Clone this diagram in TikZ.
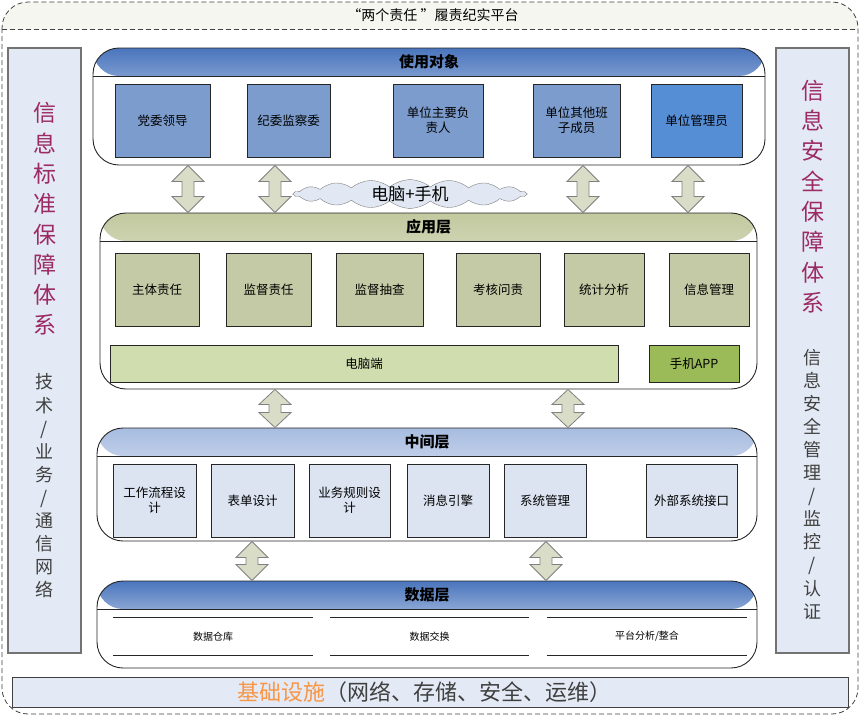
\documentclass[tikz,border=0pt]{standalone}
\usepackage{fontspec}
\setmainfont{Noto Sans CJK SC}
\usepackage{xcolor}
\usepackage{tikz}
\usetikzlibrary{positioning, calc, shapes.symbols}

\definecolor{useblue}{HTML}{4A75BD}
\definecolor{appolive}{HTML}{C2C99F}
\definecolor{midblue}{HTML}{A7BCE0}
\definecolor{userbox}{HTML}{7B9CCC}
\definecolor{adminbox}{HTML}{558ED5}
\definecolor{appbox}{HTML}{C4CAA5}
\definecolor{pcbar}{HTML}{D0DDAF}
\definecolor{appbar}{HTML}{9BBB59}
\definecolor{midbox}{HTML}{DCE4F2}
\definecolor{sidefill}{HTML}{E4EAF5}
\definecolor{sidetext}{HTML}{9C2A64}
\definecolor{arrowfill}{HTML}{D9DDC7}
\definecolor{cloudfill}{HTML}{E1E8F3}
\definecolor{stripfill}{HTML}{F6F6F0}
\definecolor{infraorange}{HTML}{F79646}

% block arrow between two layers at x = #1
\newcommand\updown[4]{%
  \draw[updown] let \p1=(#2.south), \p2=(#3.north) in
    (#1pt,\y1) -- ++(16pt,-#4pt) -- ++(-10pt,0pt) -- ++(0pt,{(\y2)-(\y1)+2*#4})
    -- ++(10pt,0pt) -- (#1pt,\y2) -- ++(-16pt,#4pt) -- ++(10pt,0pt)
    -- ++(0pt,{(\y1)-(\y2)-2*#4}) -- ++(-10pt,0pt) -- cycle;
}

\begin{document}
\begin{tikzpicture}[
      x=1pt, y=-1pt,
      frame/.style={
        draw=black!75,
        dash pattern=on 5pt off 3pt,
        line width=0.8pt
      },
      layer/.style={
        draw=black!85,
        line width=0.9pt,
        rounded corners=26pt,
        fill=white,
        inner sep=0pt,
        path picture={
          \shade[top color=#1, bottom color=white, middle color=#1!45!white]
            (path picture bounding box.north west) rectangle
            ([yshift=-28pt]path picture bounding box.north east);
          \draw[black!85, line width=0.9pt]
            ([yshift=-28pt]path picture bounding box.north west) --
            ([yshift=-28pt]path picture bounding box.north east);
        }
      },
      layertitle/.style={
        font=\fontsize{15}{18}\selectfont\bfseries
      },
      ubox/.style={
        draw=black!85,
        line width=0.8pt,
        fill=userbox,
        minimum height=73pt,
        inner sep=1pt,
        align=center,
        font=\fontsize{12.5}{15}\selectfont
      },
      abox/.style={
        ubox,
        fill=appbox
      },
      mbox/.style={
        ubox,
        fill=midbox
      },
      bar/.style={
        ubox,
        minimum height=37pt
      },
      dseg/.style={
        minimum width=200pt,
        minimum height=37pt,
        inner sep=0pt,
        font=\fontsize{10}{12}\selectfont
      },
      dline/.style={
        black!85,
        line width=0.8pt
      },
      sidebar/.style={
        draw=black!55,
        line width=1.3pt,
        fill=sidefill,
        minimum width=73pt,
        minimum height=605pt
      },
      sidetitle/.style={
        text=sidetext,
        align=center,
        font=\fontsize{23}{30.3}\selectfont
      },
      sidenote/.style={
        text=black!75,
        align=center,
        font=\fontsize{18}{23.1}\selectfont
      },
      updown/.style={
        draw=black!50,
        line width=0.8pt,
        fill=arrowfill
      }
    ]

    \useasboundingbox (0,0) rectangle (860,716);

    % outer frame
    \begin{scope}
      \clip (0,0) rectangle (860,29);
      \fill[stripfill, rounded corners=26pt] (2,2) rectangle (858,714);
    \end{scope}
    \draw[frame, rounded corners=26pt] (2,2) rectangle (858,714);
    \draw[frame] (2,29) -- (858,29);
    \node[font=\fontsize{14}{16}\selectfont] (platform) at (433,15) {“两个责任 ”履责纪实平台};

    % side panels
    \node[sidebar] (lside) at (44.5,350.5) {};
    \node[sidetitle] (lstd) at (44.5,219) {信\\息\\标\\准\\保\\障\\体\\系};
    \node[sidenote] (lnet) at (44.5,486) {技\\术\\/\\业\\务\\/\\通\\信\\网\\络};

    \node[sidebar] (rside) at (812.5,350.5) {};
    \node[sidetitle] (rsec) at (812.5,196.5) {信\\息\\安\\全\\保\\障\\体\\系};
    \node[sidenote] (rmgmt) at (812.5,484) {信\\息\\安\\全\\管\\理\\/\\监\\控\\/\\认\\证};

    % layers
    \node[layer=useblue, minimum width=672pt, minimum height=117pt] (use) at (429,106.5) {};
    \node[layertitle] (usetitle) at ([yshift=-14pt]use.north) {使用对象};

    \node[layer=appolive, minimum width=657pt, minimum height=176pt] (app) at (428.5,301) {};
    \node[layertitle] (apptitle) at ([yshift=-14.5pt]app.north) {应用层};

    \node[layer=midblue, minimum width=660pt, minimum height=113pt] (mid) at (427,484.5) {};
    \node[layertitle] (midtitle) at ([yshift=-14pt]mid.north) {中间层};

    \node[layer=useblue, minimum width=660pt, minimum height=87pt] (data) at (427,624.5) {};
    \node[layertitle] (datatitle) at ([yshift=-14.5pt]data.north) {数据层};

    % users
    \node[ubox, minimum width=95pt] (party) at (162.5,120.5) {党委领导};
    \node[ubox, minimum width=83pt] (discipline) at (288.5,120.5) {纪委监察委};
    \node[ubox, minimum width=90pt] (head) at (438,120.5) {单位主要负\\责人};
    \node[ubox, minimum width=87pt] (members) at (576.5,120.5) {单位其他班\\子成员};
    \node[ubox, fill=adminbox, minimum width=91pt] (admin) at (696.5,120.5) {单位管理员};

    % application layer
    \node[abox, minimum width=84pt] (mainresp) at (157,289.5) {主体责任};
    \node[abox, minimum width=85pt] (superresp) at (268.5,289.5) {监督责任};
    \node[abox, minimum width=87pt] (spotcheck) at (379.5,289.5) {监督抽查};
    \node[abox, minimum width=84pt] (assess) at (498,289.5) {考核问责};
    \node[abox, minimum width=80pt] (stats) at (604,289.5) {统计分析};
    \node[abox, minimum width=80pt] (infomgmt) at (709,289.5) {信息管理};
    \node[bar, fill=pcbar, minimum width=508pt] (pc) at (364,363.5) {电脑端};
    \node[bar, fill=appbar, minimum width=90pt] (mobile) at (694,363.5) {手机APP};

    % middle layer
    \node[mbox, minimum width=83pt] (workflow) at (154.5,500.5) {工作流程设\\计};
    \node[mbox, minimum width=83pt] (form) at (252.5,500.5) {表单设计};
    \node[mbox, minimum width=81pt] (rules) at (349.5,500.5) {业务规则设\\计};
    \node[mbox, minimum width=82pt] (msg) at (448,500.5) {消息引擎};
    \node[mbox, minimum width=82pt] (sysmgmt) at (545,500.5) {系统管理};
    \node[mbox, minimum width=91pt] (extif) at (691.5,500.5) {外部系统接口};

    % data layer
    \node[dseg] (warehouse) at (213,636.5) {数据仓库};
    \node[dseg, minimum width=199pt] (exchange) at (429.5,636.5) {数据交换};
    \node[dseg] (analysis) at (647,636.5) {平台分析/整合};
    \draw[dline] (warehouse.north west) -- (warehouse.north east)
                 (warehouse.south west) -- (warehouse.south east);
    \draw[dline] (exchange.north west) -- (exchange.north east)
                 (exchange.south west) -- (exchange.south east);
    \draw[dline] (analysis.north west) -- (analysis.north east)
                 (analysis.south west) -- (analysis.south east);

    % infrastructure
    \node[draw=black!75, line width=1pt, fill=sidefill, minimum width=836pt, minimum height=30pt] (infra) at (430,692) {};
    \node[text=black!75, font=\fontsize{22}{24}\selectfont] (infratext) at (424.5,692)
      {\textcolor{infraorange}{基础设施}（网络、存储、安全、运维）};

    % arrows between layers
    \updown{188}{use}{app}{16}
    \updown{275}{use}{app}{16}
    \updown{583}{use}{app}{16}
    \updown{688}{use}{app}{16}
    \updown{275}{app}{mid}{15}
    \updown{568}{app}{mid}{15}
    \updown{252}{mid}{data}{16}
    \updown{546}{mid}{data}{16}

    \node[cloud, cloud puffs=18, cloud puff arc=80, cloud ignores aspect, draw=black!50,
          fill=cloudfill, minimum width=232pt, minimum height=24pt, inner sep=0pt,
          font=\fontsize{17}{20}\selectfont] (device) at (410,194) {电脑+手机};

    \end{tikzpicture}
\end{document}
